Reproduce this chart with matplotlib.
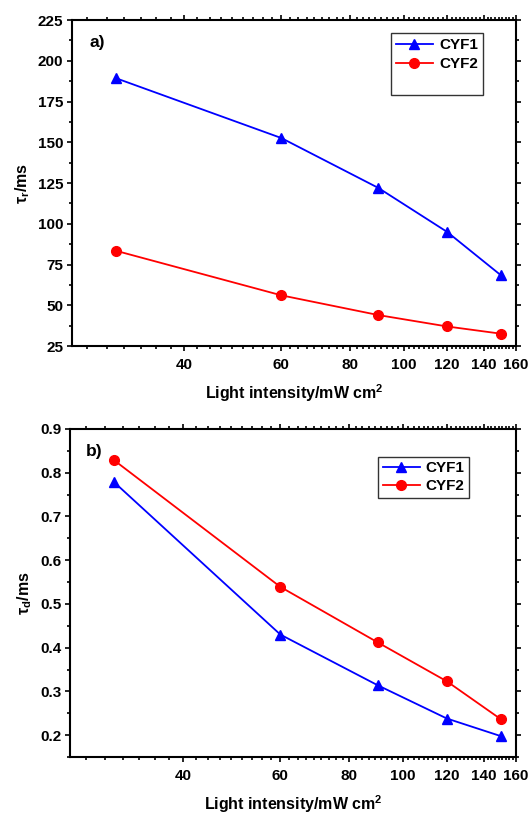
import numpy as np
import matplotlib
matplotlib.use("Agg")
import matplotlib.pyplot as plt
from matplotlib.ticker import (FixedLocator, FixedFormatter, NullFormatter,
                               MultipleLocator, FormatStrFormatter)
from matplotlib.lines import Line2D

plt.rcParams['font.family'] = ['Liberation Sans', 'DejaVu Sans']
plt.rcParams['font.weight'] = 'bold'
plt.rcParams['mathtext.fontset'] = 'custom'
plt.rcParams['mathtext.rm'] = 'Liberation Sans:bold'
plt.rcParams['mathtext.it'] = 'Liberation Sans:bold'
plt.rcParams['mathtext.bf'] = 'Liberation Sans:bold'
plt.rcParams['mathtext.default'] = 'rm'

# Light intensity (mW cm^-2)
intensity = [30, 60, 90, 120, 150]

# Rise time (ms)
rise_cyf1 = [189.4, 152.6, 122.0, 95.0, 68.6]
rise_cyf2 = [83.5, 56.1, 44.0, 37.0, 32.6]

# Decay time (ms)
decay_cyf1 = [0.779, 0.430, 0.314, 0.238, 0.198]
decay_cyf2 = [0.829, 0.539, 0.412, 0.323, 0.237]

series_names = ['CYF1', 'CYF2']
x_major = [40, 60, 80, 100, 120, 140, 160]
x_minor = [20 + 20 * k / 9 for k in range(0, 64)]
x_minor = [v for v in x_minor if 25 <= v <= 160 and all(abs(v - m) > 1e-6 for m in x_major)]

fig = plt.figure(figsize=(5.30, 8.14), dpi=100)
ax1 = fig.add_axes([0.1358, 0.5749, 0.8377, 0.4005])
ax2 = fig.add_axes([0.1321, 0.0700, 0.8415, 0.4030])

TICK_FS = 11
LABEL_FS = 11.5
LEG_FS = 11


def style_axes(ax):
    ax.set_xscale('log')
    ax.set_xlim(25, 160)
    ax.xaxis.set_major_locator(FixedLocator(x_major))
    ax.xaxis.set_major_formatter(FixedFormatter([str(v) for v in x_major]))
    ax.xaxis.set_minor_locator(FixedLocator(x_minor))
    ax.xaxis.set_minor_formatter(NullFormatter())
    for s in ax.spines.values():
        s.set_linewidth(1.5)
    ax.tick_params(which='both', direction='out', top=True, right=True,
                   labeltop=False, labelright=False, width=1.2, labelsize=TICK_FS, pad=2.5)
    ax.tick_params(which='major', length=3.8)
    ax.tick_params(which='minor', length=2.2)
    ax.tick_params(axis='x', which='major', pad=5)
    for lab in ax.get_xticklabels() + ax.get_yticklabels():
        lab.set_fontweight('bold')


# Panel a: rise time
ax1.plot(intensity, rise_cyf1, color='#0000ff', marker='^', ms=7.5, lw=1.3, label=series_names[0])
ax1.plot(intensity, rise_cyf2, color='#ff0000', marker='o', ms=7, lw=1.3, label=series_names[1])
ax1.set_ylim(25, 225)
ax1.yaxis.set_major_locator(MultipleLocator(25))
ax1.yaxis.set_minor_locator(MultipleLocator(12.5))
style_axes(ax1)
ax1.set_ylabel(r'τ$_r$/ms', fontsize=LABEL_FS, fontweight='bold', labelpad=4)
ax1.set_xlabel(r'Light intensity/mW cm$^2$', fontsize=LABEL_FS, fontweight='bold', labelpad=7)
ax1.text(0.04, 0.955, 'a)', transform=ax1.transAxes, fontsize=12.5, fontweight='bold',
         va='top', ha='left')
h, l = ax1.get_legend_handles_labels()
h.append(Line2D([], [], lw=0, marker=None))
l.append(' ')
leg1 = ax1.legend(h, l, loc='upper right', bbox_to_anchor=(0.926, 0.96), borderaxespad=0,
                  frameon=True, fancybox=False, edgecolor='black',
                  prop={'size': LEG_FS, 'weight': 'bold'},
                  handlelength=2.4, handletextpad=0.4, borderpad=0.35, labelspacing=0.3)
leg1.get_frame().set_linewidth(1.0)

# Panel b: decay time
ax2.plot(intensity, decay_cyf1, color='#0000ff', marker='^', ms=7.5, lw=1.3, label=series_names[0])
ax2.plot(intensity, decay_cyf2, color='#ff0000', marker='o', ms=7, lw=1.3, label=series_names[1])
ax2.set_ylim(0.15, 0.9)
ax2.yaxis.set_major_locator(MultipleLocator(0.1))
ax2.yaxis.set_minor_locator(MultipleLocator(0.05))
ax2.yaxis.set_major_formatter(FormatStrFormatter('%.1f'))
style_axes(ax2)
ax2.set_ylabel(r'τ$_d$/ms', fontsize=LABEL_FS, fontweight='bold', labelpad=4)
ax2.set_xlabel(r'Light intensity/mW cm$^2$', fontsize=LABEL_FS, fontweight='bold', labelpad=7)
ax2.text(0.035, 0.955, 'b)', transform=ax2.transAxes, fontsize=12.5, fontweight='bold',
         va='top', ha='left')
leg2 = ax2.legend(loc='upper right', bbox_to_anchor=(0.895, 0.915), borderaxespad=0,
                  frameon=True, fancybox=False, edgecolor='black',
                  prop={'size': LEG_FS, 'weight': 'bold'},
                  handlelength=2.4, handletextpad=0.4, borderpad=0.3, labelspacing=0.25)
leg2.get_frame().set_linewidth(1.0)

fig.savefig('out.png', dpi=100)
